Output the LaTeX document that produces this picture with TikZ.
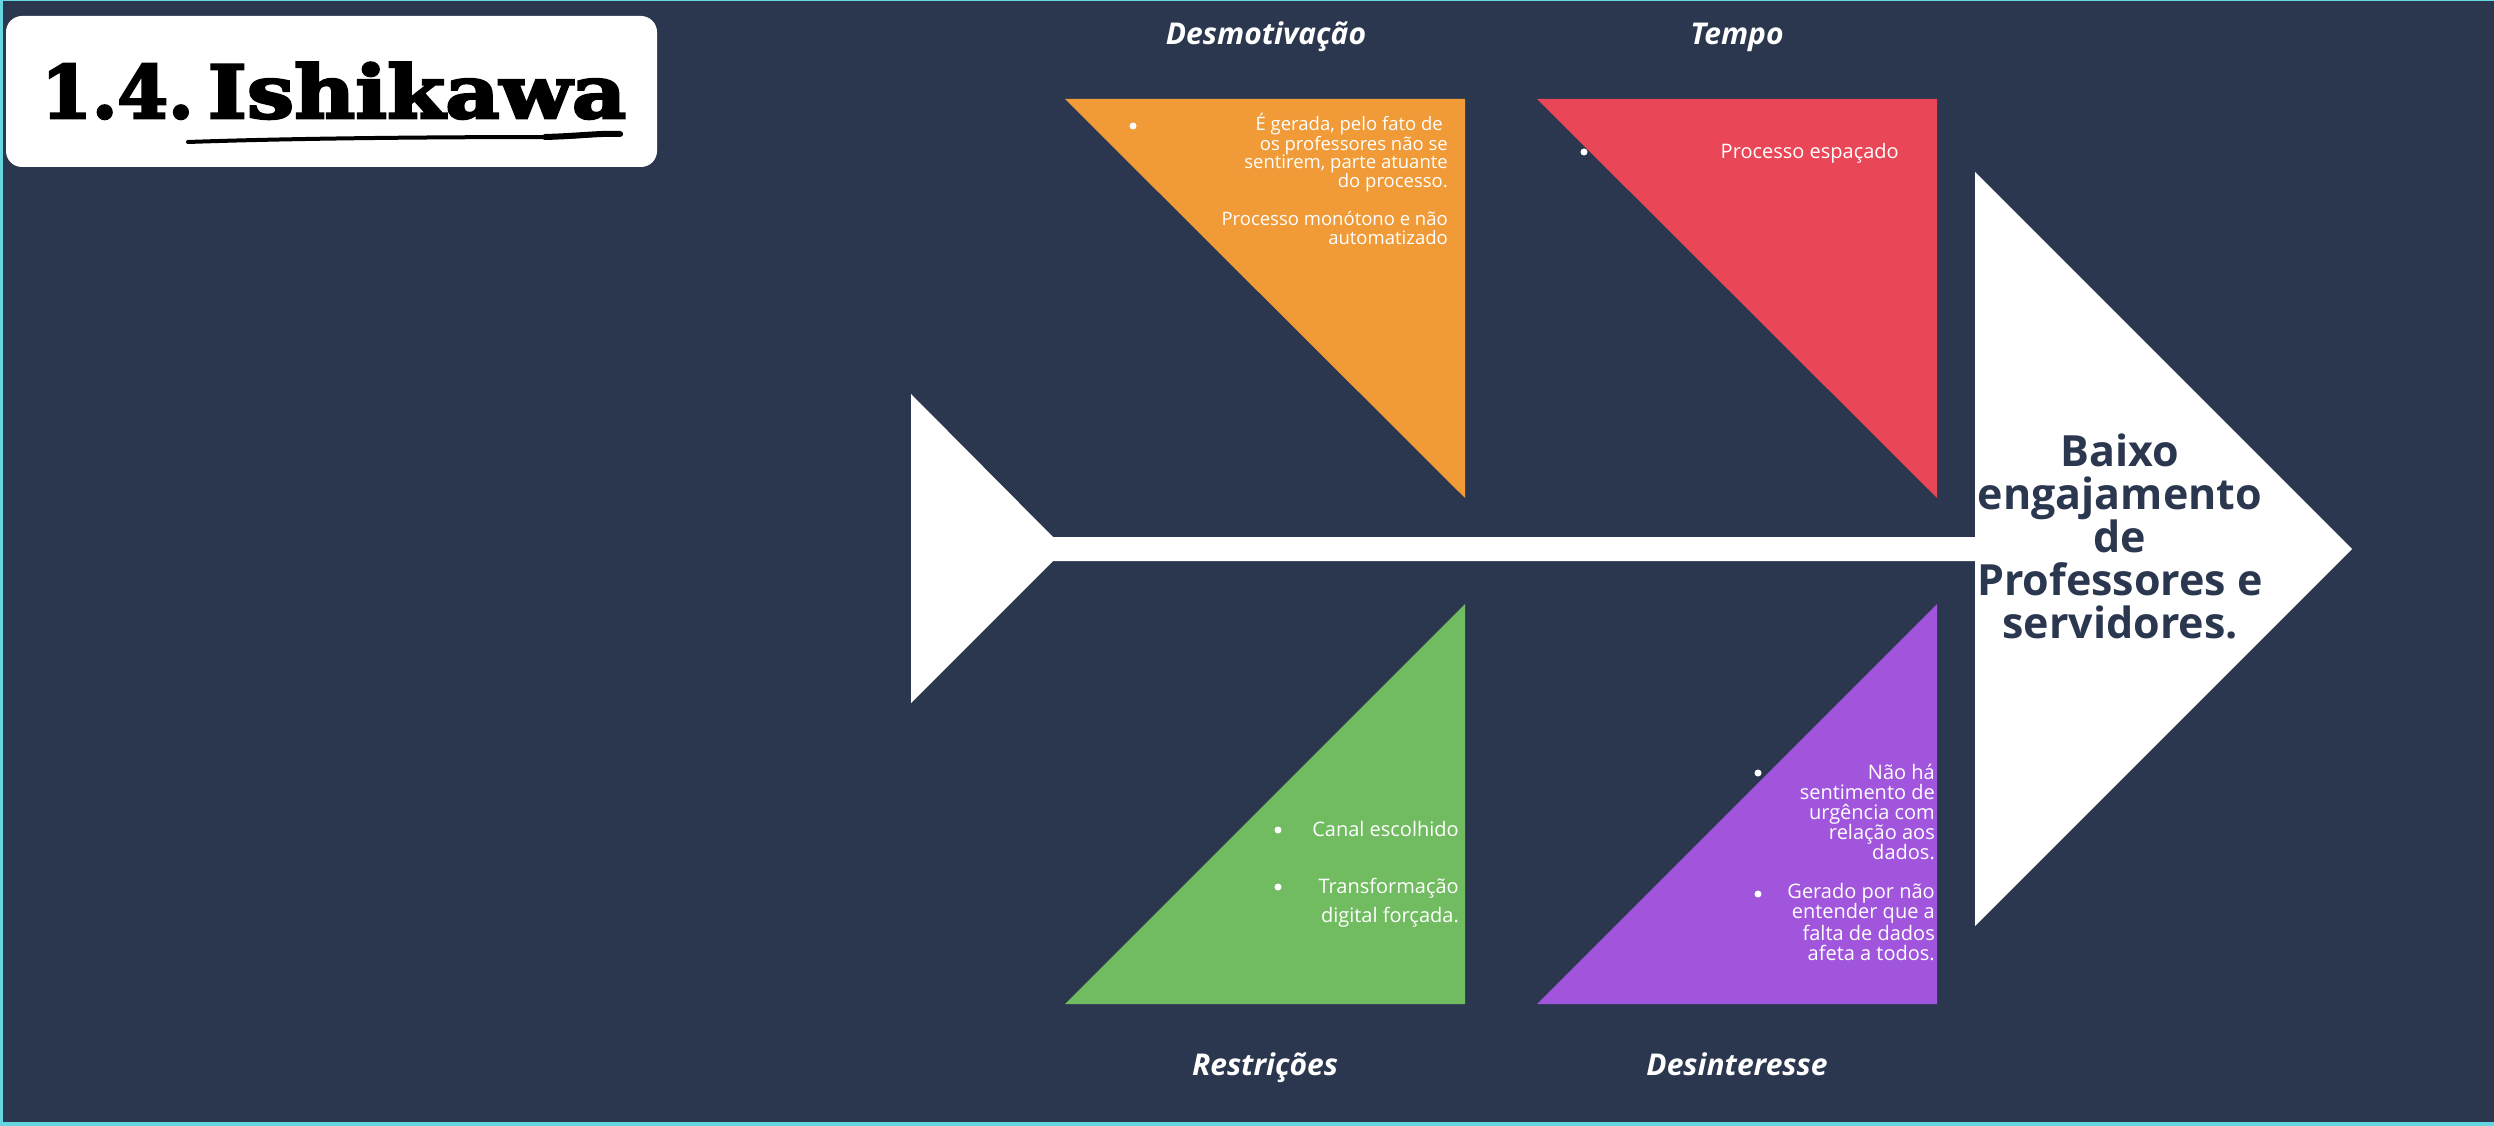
\documentclass[tikz,border=0pt]{standalone}
\usepackage{fontspec}
\newfontfamily\osans{Open Sans}
\newfontfamily\slab{DejaVu Serif Bold}[FakeBold=3.5]
\newfontfamily\slabwide{DejaVu Serif Bold}[FakeBold=3.5, FakeStretch=1.15]
\definecolor{navy}{HTML}{2A374E}
\definecolor{edgecyan}{HTML}{66D6E0}
\definecolor{causeorange}{HTML}{F09B38}
\definecolor{causered}{HTML}{E94657}
\definecolor{causegreen}{HTML}{71BB60}
\definecolor{causepurple}{HTML}{A055DC}
\begin{document}
\begin{tikzpicture}[x=1pt,y=-1pt,
  causelabel/.style={font=\osans\bfseries\itshape\fontsize{30}{30}\selectfont, text=white, inner sep=0, anchor=base},
  causetext/.style={font=\osans\fontsize{20}{20}\selectfont, text=white, align=right, inner sep=0, anchor=base east},
  smalltext/.style={causetext, font=\osans\fontsize{18.5}{18.5}\selectfont},
  dot/.style={circle, fill=white, inner sep=0, minimum size=7pt},
  headtext/.style={font=\osans\bfseries\fontsize{43}{43}\selectfont, text=navy, align=center, inner sep=0, anchor=base}
]
\useasboundingbox (0,0) rectangle (2494,1126);
% background and frame lines
\fill[navy] (0,0) rectangle (2494,1126);
\fill[edgecyan] (0,0) rectangle (2.5,1126);
\fill[edgecyan] (0,1121.5) rectangle (2494,1126);
\fill[edgecyan] (0,0) rectangle (2494,1.5);

% title card (multi-line nodes below are placed by the baseline of their last line)
\fill[white, rounded corners=16pt] (6,16) rectangle (657,167);
\node[font=\fontsize{73}{73}\selectfont, inner sep=0, anchor=base west] (title) at (41,118) {\slab 1.4.\kern14pt\slabwide Ishikawa};
\draw[line width=4pt, line cap=round] (188,142) .. controls (300,138) and (450,137) .. (560,137) .. controls (590,136) and (605,133) .. (621,134);
\draw[line width=6pt, line cap=round] (545,137) .. controls (580,136) and (600,133) .. (620,134);

% fish bone: tail, spine and head
\coordinate (tailtop) at (911,394);
\coordinate (tailbot) at (911,703);
\coordinate (spinetop) at (1053,537);
\coordinate (spinebot) at (1053,561);
\coordinate (headtop) at (1975,172);
\coordinate (headbot) at (1975,926);
\coordinate (headtip) at (2352,549);
\fill[white] (tailtop) -- (spinetop) -- (1985,537) -- (1985,561) -- (spinebot) -- (tailbot) -- cycle;
\fill[white] (headtop) -- (headtip) -- (headbot) -- cycle;
\node[headtext] (effect) at (2120,638) {Baixo\\engajamento\\de\\Professores e\\servidores.};

% cause triangles
\fill[causeorange] (1065,99) -- (1465,99) -- (1465,498) -- cycle;
\fill[causered] (1537,99) -- (1937,99) -- (1937,498) -- cycle;
\fill[causegreen] (1465,604) -- (1465,1004) -- (1065,1004) -- cycle;
\fill[causepurple] (1937,604) -- (1937,1004) -- (1537,1004) -- cycle;

% cause titles
\node[causelabel] (lbldesm) at (1266,45) {Desmotivação};
\node[causelabel] (lbltempo) at (1737,45) {Tempo};
\node[causelabel] (lblrestr) at (1265,1075) {Restrições};
\node[causelabel] (lbldesint) at (1737,1075) {Desinteresse};

% cause details
\node[dot] (dotdesm) at (1133,126) {};
\node[smalltext] (txtdesm) at (1448,244) {É gerada, pelo fato de\hspace*{5pt}\\os professores não se\\sentirem, parte atuante\\do processo.\hspace*{6pt}\\[18.5pt]Processo monótono e não\\automatizado};

\node[dot] (dottempo) at (1584,152) {};
\node[causetext] (txttempo) at (1899,159) {Processo espaçado};

\node[dot] (dotrestrA) at (1278,830) {};
\node[causetext] (txtrestrA) at (1459,836) {Canal escolhido};
\node[dot] (dotrestrB) at (1278,887) {};
\node[causetext, font=\osans\fontsize{20}{29}\selectfont] (txtrestrB) at (1459,922) {Transformação\\digital forçada.};

\node[dot] (dotdesintA) at (1758,773) {};
\node[causetext] (txtdesintA) at (1935,859) {Não há\\sentimento de\\urgência com\\relação aos\\dados.};
\node[dot] (dotdesintB) at (1758,894) {};
\node[causetext] (txtdesintB) at (1935,960) {Gerado por não\\entender que a\\falta de dados\\afeta a todos.};
\end{tikzpicture}
\end{document}
